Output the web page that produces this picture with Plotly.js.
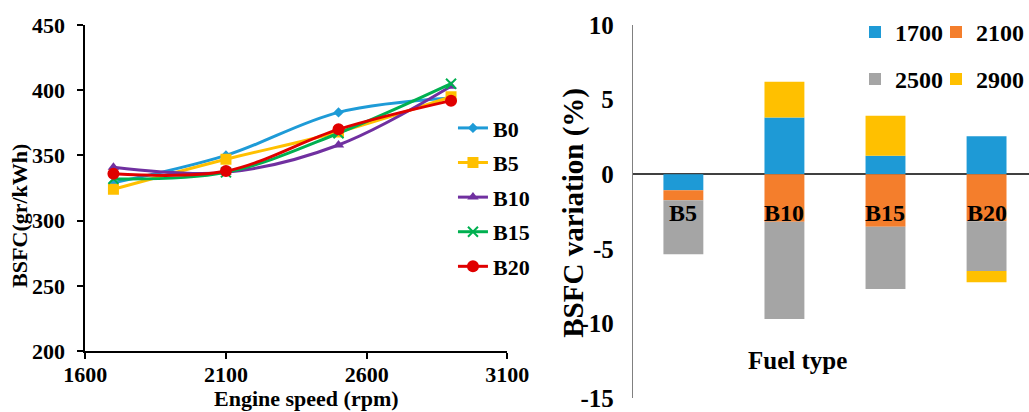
<!DOCTYPE html>
<html>
<head>
<meta charset="utf-8">
<script src="https://cdn.plot.ly/plotly-3.0.1.min.js"></script>
<style>html,body{margin:0;padding:0;background:#fff;}</style>
</head>
<body>
<div id="chart" style="width:1029px;height:412px;"></div>
<script>
// Left panel: BSFC against engine speed for each blend
const speeds = [1700, 2100, 2500, 2900];
const blendNames = ['B0', 'B5', 'B10', 'B15', 'B20'];
const bsfcB0  = [329, 350, 383, 394];
const bsfcB5  = [324, 347, 368, 395];
const bsfcB10 = [341, 337, 358, 403];
const bsfcB15 = [332, 337, 367, 405];
const bsfcB20 = [336, 338, 370, 392];
const speedTicks = [1600, 2100, 2600, 3100];
const bsfcTicks = [200, 250, 300, 350, 400, 450];

// Right panel: BSFC variation relative to B0, stacked by engine speed
const fuelTypes = ['B5', 'B10', 'B15', 'B20'];
const speedLabels = ['1700', '2100', '2500', '2900'];
const var1700 = [-1.07, 3.80, 1.23, 2.55];
const var2100 = [-0.67, -3.19, -3.53, -3.15];
const var2500 = [-3.62, -6.52, -4.16, -3.33];
const var2900 = [0, 2.39, 2.68, -0.76];
const variationTicks = [10, 5, 0, -5, -10, -15];
const variationTickText = ['10', '5', '0', '-5', '-10', '-15'];

const SERIF = 'Liberation Serif';
const boldFont = size => ({family: SERIF, size: size, weight: 'bold'});

const lineColors = ['#1E9BD7', '#FFC000', '#7030A0', '#00B050', '#E00000'];
const lineSymbols = ['diamond', 'square', 'triangle-up', 'x-thin', 'circle'];
const lineSizes = [8, 11, 10, 10, 12];
const bsfcSeries = [bsfcB0, bsfcB5, bsfcB10, bsfcB15, bsfcB20];

const traces = [];
bsfcSeries.forEach((vals, i) => {
  traces.push({
    type: 'scatter', mode: 'lines+markers', showlegend: true,
    x: speeds, y: vals, name: blendNames[i],
    xaxis: 'x', yaxis: 'y', legend: 'legend', legendgroup: blendNames[i],
    line: {color: lineColors[i], width: 3, shape: 'spline'},
    marker: {symbol: lineSymbols[i], size: lineSizes[i], color: lineColors[i],
             line: {color: lineColors[i], width: lineSymbols[i] === 'x-thin' ? 2 : 0}}
  });
});

// One small legend per engine speed, laid out as a 2x2 block
const barColors = ['#1E9AD6', '#F47E2C', '#A5A5A5', '#FFC000'];
const barSeries = [var1700, var2100, var2500, var2900];
const barLegends = ['legend2', 'legend3', 'legend4', 'legend5'];
barSeries.forEach((vals, i) => {
  traces.push({
    type: 'bar', x: fuelTypes, y: vals, name: speedLabels[i], showlegend: true,
    xaxis: 'x2', yaxis: 'y2', legend: barLegends[i],
    marker: {color: barColors[i], line: {width: 0}}
  });
});

const centered = {showarrow: false, xanchor: 'center', yanchor: 'middle'};
const annotations = [
  Object.assign({text: 'BSFC(gr/kWh)', xref: 'paper', yref: 'paper', x: 0.0194, y: 0.476,
   textangle: -90, font: boldFont(22)}, centered),
  Object.assign({text: 'Engine speed (rpm)', xref: 'paper', yref: 'paper', x: 0.298, y: 0.0316,
   font: boldFont(22)}, centered),
  Object.assign({text: 'BSFC variation (%)', xref: 'paper', yref: 'paper', x: 0.557, y: 0.484,
   textangle: -90, font: boldFont(29)}, centered),
  Object.assign({text: 'Fuel type', xref: 'paper', yref: 'paper', x: 0.7755, y: 0.126,
   font: boldFont(25)}, centered)
];
// Category names sit just under the zero line
fuelTypes.forEach(f => {
  annotations.push(Object.assign({text: f, xref: 'x2', yref: 'y2', x: f, y: -2.6,
                    font: boldFont(24)}, centered));
});

const legendBase = {
  font: boldFont(24), bgcolor: 'rgba(0,0,0,0)', borderwidth: 0,
  yanchor: 'top', itemclick: false, itemdoubleclick: false, orientation: 'h'
};
const legendAt = (x, y, xanchor) => Object.assign({}, legendBase, {x: x, y: y, xanchor: xanchor});

const layout = {
  width: 1029, height: 412,
  margin: {l: 0, r: 0, t: 0, b: 0},
  paper_bgcolor: '#fff', plot_bgcolor: '#fff',
  font: {family: SERIF, color: '#000'},
  barmode: 'relative', bargap: 0.605,
  showlegend: true,
  legend: Object.assign({}, legendBase, {font: boldFont(22), x: 0.4402, y: 0.74, xanchor: 'left',
                         orientation: 'v', traceorder: 'grouped', tracegroupgap: 3}),
  legend2: legendAt(0.8309, 0.976, 'left'),
  legend3: legendAt(1, 0.976, 'right'),
  legend4: legendAt(0.8309, 0.862, 'left'),
  legend5: legendAt(1, 0.862, 'right'),
  xaxis: {
    domain: [0.0829, 0.493], range: [1600, 3100], anchor: 'y',
    tickmode: 'array', tickvals: speedTicks,
    showline: true, linecolor: '#000', linewidth: 2,
    ticks: 'outside', ticklen: 6, tickwidth: 2, tickcolor: '#000',
    showgrid: false, zeroline: false,
    tickfont: boldFont(22), ticklabelstandoff: -3
  },
  yaxis: {
    domain: [0.148, 0.9393], range: [200, 450], anchor: 'x',
    tickmode: 'array', tickvals: bsfcTicks,
    showline: true, linecolor: '#000', linewidth: 2,
    ticks: 'outside', ticklen: 6, tickwidth: 2, tickcolor: '#000',
    showgrid: false, zeroline: false,
    tickfont: boldFont(22), ticklabelstandoff: 8
  },
  xaxis2: {
    domain: [0.6155, 1], range: [-0.495, 3.42], anchor: 'y2', type: 'category',
    showline: false, showticklabels: false, ticks: '', showgrid: false, zeroline: false
  },
  yaxis2: {
    domain: [0.034, 0.9393], range: [-15, 10], anchor: 'x2',
    tickmode: 'array', tickvals: variationTicks, ticktext: variationTickText,
    showline: true, linecolor: '#808080', linewidth: 1.5, ticks: '',
    showgrid: false, zeroline: true, zerolinecolor: '#404040', zerolinewidth: 1.5,
    tickfont: boldFont(25), ticklabelstandoff: 13
  },
  annotations: annotations
};

Plotly.newPlot('chart', traces, layout, {displayModeBar: false, staticPlot: true});
</script>
</body>
</html>
